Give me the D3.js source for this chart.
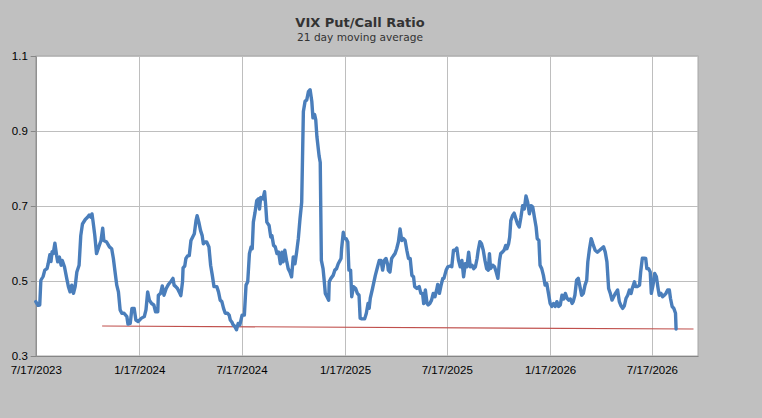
<!DOCTYPE html>
<html>
<head>
<meta charset="utf-8">
<script src="https://cdn.jsdelivr.net/npm/d3@7/dist/d3.min.js"></script>
<style>
  html, body { margin: 0; padding: 0; background: #c0c0c0; }
  svg { display: block; }
</style>
</head>
<body>
<svg id="chart" width="762" height="418"></svg>
<script>
// ---- data ----
const chartTitle = "VIX Put/Call Ratio";
const chartSubtitle = "21 day moving average";
const startDate = "2023-07-17";
const endDate = "2026-10-07";
const xTickDates = ["2023-07-17", "2024-01-17", "2024-07-17", "2025-01-17", "2025-07-17", "2026-01-17", "2026-07-17"];
const yTickValues = [0.3, 0.5, 0.7, 0.9, 1.1];
// [days since startDate, 21-day moving average of put/call ratio]
const ratioPart1 = [[0,0.445],[4,0.435],[7,0.436],[9,0.502],[13,0.512],[16,0.529],[20,0.533],[22,0.546],[25,0.570],[27,0.552],[29,0.578],[31,0.573],[34,0.601],[37,0.568],[39,0.551],[42,0.564],[45,0.542],[47,0.555],[51,0.538],[55,0.507],[58,0.485],[61,0.471],[64,0.489],[67,0.467],[70,0.485],[73,0.524],[77,0.542],[80,0.621],[83,0.652],[88,0.664],[92,0.670],[95,0.676],[98,0.670],[100,0.679],[102,0.657],[105,0.621],[108,0.573],[112,0.591],[116,0.608],[119,0.641],[121,0.608],[126,0.604],[131,0.591],[135,0.586],[138,0.560],[141,0.524],[144,0.489],[147,0.471],[150,0.423],[153,0.414],[157,0.414],[162,0.405],[164,0.385],[168,0.387],[171,0.427],[175,0.427],[178,0.396],[182,0.392],[188,0.401],[193,0.405],[196,0.423],[199,0.471],[202,0.449]];
const ratioPart2 = [[206,0.440],[210,0.436],[213,0.418],[217,0.418],[218,0.462],[222,0.467],[225,0.487],[228,0.462],[232,0.480],[236,0.491],[240,0.498],[244,0.507],[246,0.489],[249,0.485],[252,0.480],[255,0.471],[258,0.461],[261,0.498],[262,0.535],[265,0.540],[267,0.560],[270,0.567],[273,0.568],[276,0.608],[278,0.614],[282,0.626],[285,0.661],[287,0.674],[290,0.657],[293,0.635],[296,0.621],[298,0.599],[301,0.604],[304,0.604],[308,0.591],[311,0.542],[314,0.515],[317,0.485],[322,0.485],[325,0.471],[328,0.449],[331,0.445],[334,0.427],[337,0.414],[341,0.414],[344,0.409],[346,0.396],[349,0.390],[351,0.383],[354,0.379],[357,0.370],[360,0.387],[363,0.383],[367,0.409],[371,0.409],[374,0.489],[377,0.498],[380,0.573],[383,0.591],[385,0.586],[387,0.657],[390,0.683],[393,0.714],[396,0.719],[398,0.692],[400,0.723],[404,0.719],[407,0.738],[409,0.701],[411,0.657],[415,0.648],[418,0.617]];
const ratioPart3 = [[420,0.621],[423,0.595],[426,0.591],[429,0.573],[432,0.577],[435,0.546],[438,0.577],[440,0.551],[443,0.582],[446,0.555],[449,0.533],[452,0.524],[455,0.511],[458,0.564],[461,0.546],[464,0.577],[467,0.613],[470,0.666],[473,0.710],[476,0.952],[479,0.979],[482,0.983],[485,1.005],[488,1.010],[491,0.979],[493,0.935],[496,0.944],[498,0.930],[500,0.886],[504,0.833],[506,0.816],[507,0.683],[508,0.555],[511,0.533],[513,0.502],[515,0.467],[518,0.458],[521,0.449],[522,0.498],[525,0.507],[529,0.515],[532,0.529],[535,0.533],[538,0.546],[543,0.560],[544,0.586],[547,0.630],[549,0.613],[552,0.613],[555,0.604],[557,0.529],[560,0.529],[562,0.458],[565,0.485],[569,0.480],[572,0.467],[575,0.462],[577,0.401],[580,0.399],[585,0.399],[588,0.414],[591,0.440],[593,0.427]];
const ratioPart4 = [[595,0.454],[599,0.480],[604,0.515],[608,0.538],[611,0.555],[614,0.555],[617,0.529],[620,0.555],[623,0.560],[626,0.544],[627,0.529],[630,0.524],[633,0.560],[636,0.567],[639,0.573],[642,0.586],[645,0.604],[648,0.639],[651,0.608],[654,0.613],[657,0.608],[660,0.582],[663,0.560],[666,0.560],[669,0.515],[672,0.511],[674,0.485],[678,0.480],[682,0.485],[685,0.467],[688,0.467],[690,0.440],[693,0.476],[696,0.440],[698,0.436],[701,0.440],[704,0.449],[707,0.467],[710,0.458],[713,0.476],[715,0.491],[718,0.467],[721,0.489],[724,0.507],[726,0.507],[730,0.529],[733,0.538],[737,0.540],[740,0.538],[743,0.582],[746,0.582],[749,0.588],[752,0.555],[755,0.538],[758,0.555],[761,0.511],[764,0.546],[767,0.538],[770,0.577],[773,0.538],[776,0.542],[779,0.533],[782,0.538],[785,0.560],[787,0.582],[790,0.605],[793,0.599],[796,0.582],[799,0.555],[802,0.533],[805,0.529],[807,0.573],[809,0.533],[813,0.542],[816,0.538],[819,0.524],[822,0.507],[825,0.555]];
const ratioPart5 = [[827,0.573],[830,0.577],[833,0.582],[836,0.595],[838,0.586],[841,0.599],[843,0.617],[845,0.661],[848,0.674],[851,0.681],[854,0.666],[857,0.652],[860,0.644],[863,0.670],[866,0.701],[869,0.692],[872,0.727],[875,0.710],[878,0.679],[881,0.701],[884,0.697],[887,0.670],[890,0.644],[892,0.613],[895,0.608],[897,0.542],[900,0.533],[903,0.515],[906,0.489],[909,0.493],[912,0.467],[915,0.440],[918,0.432],[921,0.440],[924,0.432],[927,0.445],[930,0.432],[933,0.436],[936,0.462],[939,0.452],[942,0.467],[945,0.454],[948,0.449],[951,0.452],[954,0.440],[956,0.445],[959,0.462],[962,0.502],[965,0.507],[968,0.485],[971,0.462],[974,0.467],[977,0.489],[980,0.502],[982,0.551],[985,0.586],[988,0.613],[991,0.599],[995,0.582],[999,0.577],[1003,0.582],[1006,0.586],[1010,0.591],[1013,0.577],[1016,0.551],[1019,0.480],[1022,0.467],[1025,0.449],[1028,0.458],[1031,0.467],[1035,0.476],[1038,0.445],[1041,0.434],[1044,0.427],[1047,0.434],[1050,0.454],[1053,0.462],[1056,0.476],[1059,0.467],[1061,0.480],[1065,0.498],[1067,0.485],[1070,0.485],[1074,0.489],[1076,0.524],[1079,0.561],[1082,0.561],[1085,0.560],[1087,0.533],[1090,0.533],[1093,0.524],[1095,0.467],[1098,0.489],[1101,0.520],[1104,0.511],[1107,0.480],[1109,0.462],[1112,0.467],[1115,0.458],[1118,0.462],[1121,0.467],[1124,0.476],[1127,0.476],[1129,0.454],[1132,0.432],[1135,0.427],[1138,0.414],[1139,0.372]];
// support line (start / end)
const supportLine = [[118,0.380],[1170,0.372]];

// ---- chart ----
const W = 762, H = 418;
const margin = { left: 35.8, right: 64, top: 56, bottom: 60 };
const svg = d3.select("#chart");
const parse = d3.utcParse("%Y-%m-%d");
const t0 = parse(startDate);
const toDate = d => d3.utcDay.offset(t0, d);

const x = d3.scaleUtc().domain([t0, parse(endDate)]).range([margin.left, W - margin.right]);
const y = d3.scaleLinear().domain([0.3, 1.1]).range([H - margin.bottom - 2, margin.top]);

const plotL = x.range()[0], plotR = x.range()[1], plotT = y(1.1), plotB = y(0.3);

svg.append("rect").attr("x", 0).attr("y", 0).attr("width", W).attr("height", H).attr("fill", "#c0c0c0");
svg.append("rect").attr("x", plotL).attr("y", plotT).attr("width", plotR - plotL).attr("height", plotB - plotT)
  .attr("fill", "#ffffff").attr("stroke", "#a6a6a6").attr("stroke-width", 1);

// gridlines
const xTicks = xTickDates.map(parse);
svg.append("g").selectAll("line.vx").data(xTicks).join("line")
  .attr("x1", d => Math.round(x(d)) + 0.5).attr("x2", d => Math.round(x(d)) + 0.5)
  .attr("y1", plotT).attr("y2", plotB)
  .attr("stroke", "#bebebe").attr("stroke-width", 1);
svg.append("g").selectAll("line.hy").data(yTickValues).join("line")
  .attr("x1", plotL).attr("x2", plotR)
  .attr("y1", d => Math.round(y(d)) + 0.5).attr("y2", d => Math.round(y(d)) + 0.5)
  .attr("stroke", "#bebebe").attr("stroke-width", 1);

// axes
const yAxis = d3.axisLeft(y).tickValues(yTickValues).tickFormat(d3.format(".1f")).tickSize(5).tickPadding(3);
const gy = svg.append("g").attr("transform", `translate(${plotL},0)`).call(yAxis);
gy.select(".domain").attr("stroke", "#868686");
gy.selectAll(".tick line").attr("stroke", "#868686");
gy.selectAll(".tick text").attr("font-family", "Liberation Sans, Arial, sans-serif").attr("font-size", 11.5).attr("fill", "#000");

const xAxis = d3.axisBottom(x).tickValues(xTicks).tickFormat(d3.utcFormat("%-m/%-d/%Y")).tickSize(0).tickPadding(10);
const gx = svg.append("g").attr("transform", `translate(0,${plotB})`).call(xAxis);
gx.select(".domain").attr("stroke", "#868686");
gx.selectAll(".tick text").attr("font-family", "Liberation Sans, Arial, sans-serif").attr("font-size", 11.5).attr("fill", "#000");

// support line
const line = d3.line().x(d => x(toDate(d[0]))).y(d => y(d[1]));
svg.append("path").datum(supportLine).attr("d", line)
  .attr("fill", "none").attr("stroke", "#c0504d").attr("stroke-width", 1.2);

// main series
const series = [].concat(ratioPart1, ratioPart2, ratioPart3, ratioPart4, ratioPart5);
svg.append("path").datum(series).attr("d", line)
  .attr("fill", "none").attr("stroke", "#4a7ebb").attr("stroke-width", 3.4)
  .attr("stroke-linejoin", "round").attr("stroke-linecap", "round");

// titles
svg.append("text").attr("x", 360).attr("y", 27).attr("text-anchor", "middle")
  .attr("font-family", "DejaVu Sans, Verdana, sans-serif").attr("font-weight", "bold").attr("font-size", 13)
  .attr("fill", "#333333").text(chartTitle);
svg.append("text").attr("x", 360).attr("y", 41).attr("text-anchor", "middle")
  .attr("font-family", "DejaVu Sans, Verdana, sans-serif").attr("font-size", 10.6)
  .attr("fill", "#333333").text(chartSubtitle);
</script>
</body>
</html>
